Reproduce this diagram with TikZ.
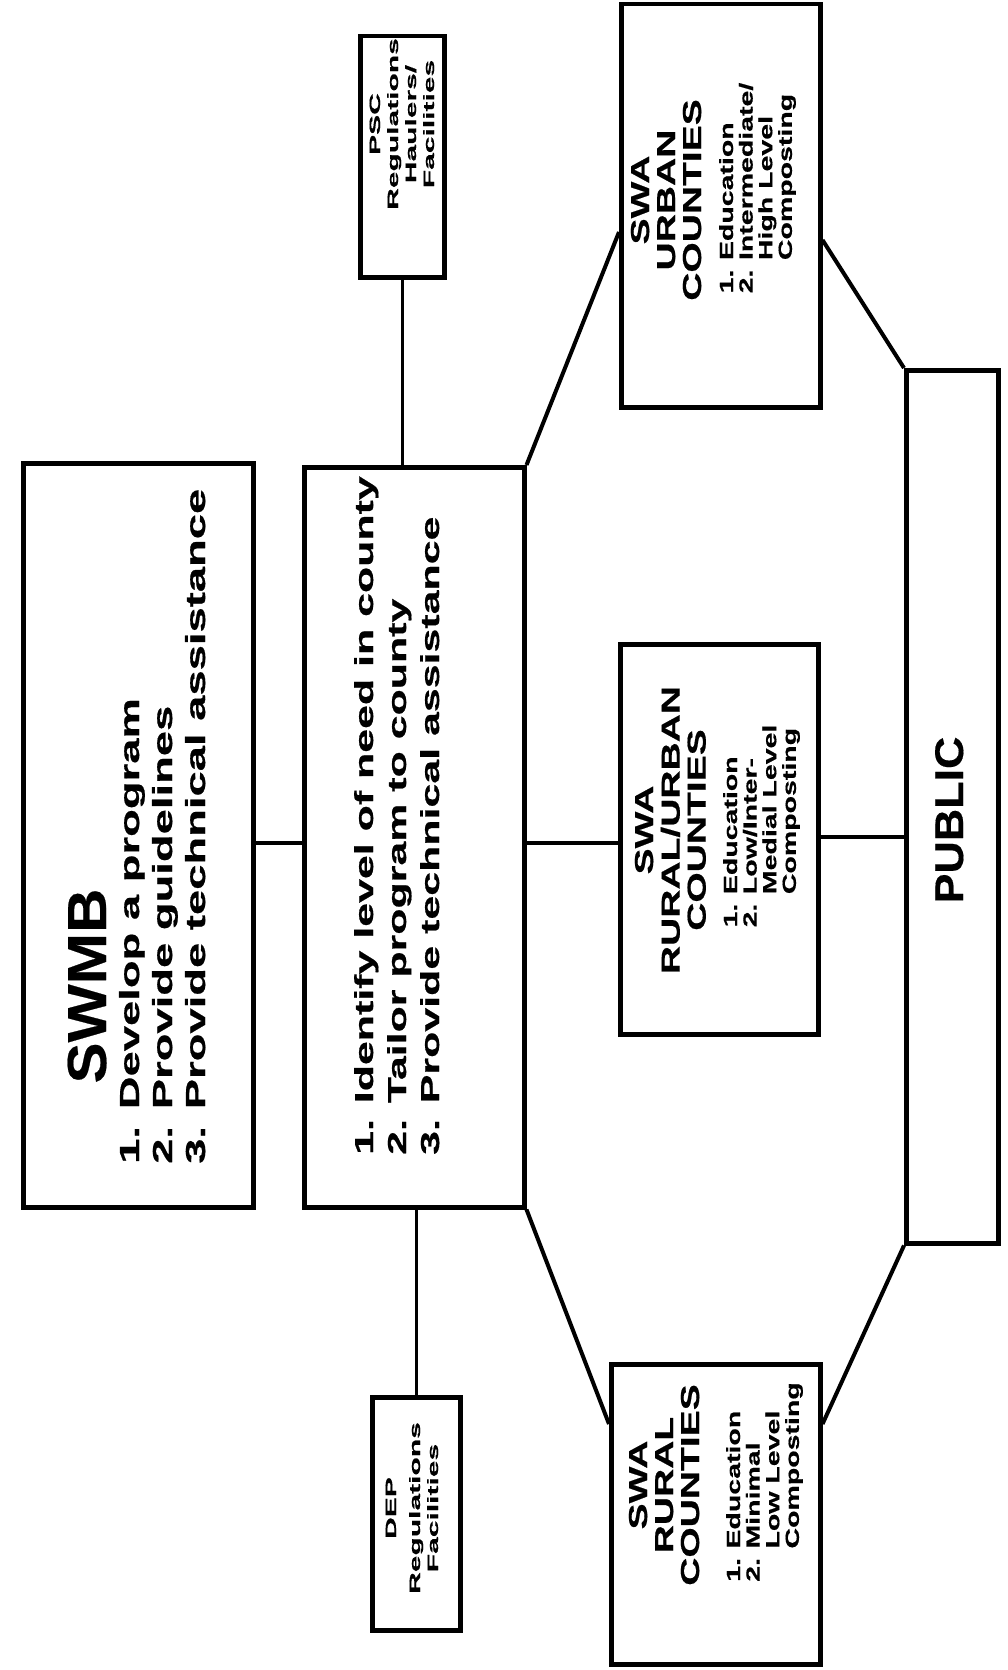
\documentclass[tikz,border=0pt]{standalone}
\usepackage{fontspec}
\newfontfamily\bigsans{Liberation Sans}[FakeStretch=1.65,FakeBold=0.6]
\newfontfamily\titlesans{Liberation Sans}[FakeStretch=1.12,FakeBold=0.4]
\newfontfamily\swasans{Liberation Sans}[FakeStretch=1.5,FakeBold=0.6]
\newfontfamily\tinysans{Liberation Sans}[FakeStretch=2.0,FakeBold=0.6]

\tikzset{
  box/.style={draw, line width=4.5pt, rectangle, inner sep=0pt, anchor=north west},
  link/.style={line width=4pt},
  thinlink/.style={line width=3pt},
  vtext/.style={rotate=90, inner sep=0pt},
  titlefont/.style={font=\titlesans\bfseries\fontsize{#1}{#1}\selectfont},
  headfont/.style={font=\swasans\bfseries\fontsize{26}{26}\selectfont},
  listfont/.style={font=\swasans\bfseries\fontsize{19}{19.5}\selectfont},
  tinyfont/.style={font=\tinysans\bfseries\fontsize{15}{18}\selectfont}
}

\begin{document}
\begin{tikzpicture}[x=1pt,y=-1pt]
\useasboundingbox (0,0) rectangle (1008,1670);

% Define coordinates for the connector heights
\coordinate (axis) at (0,843);
\coordinate (pubaxis) at (0,837);
\coordinate (urbanin) at (0,232);
\coordinate (urbanout) at (0,240);
\coordinate (ruralin) at (0,1424);

% Draw the boxes
\node[box, minimum width=230, minimum height=744] (swmb) at (21,461) {};
\node[box, minimum width=220, minimum height=740] (mid) at (302,465) {};
\node[box, minimum width=84, minimum height=241] (psc) at (358,34) {};
\node[box, minimum width=88, minimum height=233] (dep) at (370,1395) {};
\node[box, minimum width=199, minimum height=403] (urban) at (619,2) {};
\node[box, minimum width=198, minimum height=390] (rurub) at (618,642) {};
\node[box, minimum width=209, minimum height=300] (rural) at (609,1362) {};
\node[box, minimum width=92, minimum height=873] (public) at (904,368) {};

% Draw the connectors
\draw[link] (swmb.east |- axis) -- (mid.west |- axis);
\draw[link] (mid.east |- axis) -- (rurub.west |- axis);
\draw[link] (rurub.east |- pubaxis) -- (public.west |- pubaxis);
\draw[thinlink] (psc.south) -- (psc.south |- mid.north);
\draw[thinlink] (mid.south -| dep.north) -- (dep.north);
\draw[link] (mid.north east) -- (urban.west |- urbanin);
\draw[link] (urban.east |- urbanout) -- (public.north west);
\draw[link] (mid.south east) -- (rural.west |- ruralin);
\draw[link] (rural.east |- ruralin) -- (public.south west);

% Add the texts of the top boxes
\node[vtext, anchor=base, titlefont=55] (swmbtitle) at (106,986) {SWMB};
\node[vtext, anchor=base west, font=\bigsans\bfseries\fontsize{27.5}{33}\selectfont] (swmblist) at (139,1164)
  {\begin{tabular}[t]{@{}l@{}}1. Develop a program\\2. Provide guidelines\\3. Provide technical assistance\end{tabular}};
\node[vtext, anchor=base west, font=\bigsans\bfseries\fontsize{26}{33}\selectfont] (midlist) at (373,1155)
  {\begin{tabular}[t]{@{}l@{}}1. Identify level of need in county\\2. Tailor program to county\\3. Provide technical assistance\end{tabular}};
\node[vtext, anchor=base, tinyfont] (psctext) at (380,124)
  {\begin{tabular}[t]{@{}c@{}}PSC\\Regulations\\Haulers/\\Facilities\end{tabular}};
\node[vtext, anchor=base, tinyfont] (deptext) at (396,1508)
  {\begin{tabular}[t]{@{}c@{}}DEP\\[6pt]Regulations\\Facilities\end{tabular}};

% Add the texts of the SWA boxes
\node[vtext, anchor=base, headfont] (urbanhead) at (649,200)
  {\begin{tabular}[t]{@{}c@{}}SWA\\URBAN\\COUNTIES\end{tabular}};
\node[vtext, anchor=base, listfont] (urbanlist) at (733,188)
  {\begin{tabular}[t]{@{}l@{\enspace}l@{}}1. & Education\\2. & Intermediate/\\ & High Level\\ & Composting\end{tabular}};
\node[vtext, anchor=base, headfont] (rurubhead) at (653,830)
  {\begin{tabular}[t]{@{}c@{}}SWA\\RURAL/URBAN\\COUNTIES\end{tabular}};
\node[vtext, anchor=base, listfont] (rurublist) at (737,826)
  {\begin{tabular}[t]{@{}l@{\enspace}l@{}}1. & Education\\2. & Low/Inter-\\ & Medial Level\\ & Composting\end{tabular}};
\node[vtext, anchor=base, headfont] (ruralhead) at (647,1485)
  {\begin{tabular}[t]{@{}c@{}}SWA\\RURAL\\COUNTIES\end{tabular}};
\node[vtext, anchor=base, listfont] (rurallist) at (740,1482)
  {\begin{tabular}[t]{@{}l@{\enspace}l@{}}1. & Education\\2. & Minimal\\ & Low Level\\ & Composting\end{tabular}};

% Add the public label
\node[vtext, anchor=base, titlefont=40] (publictext) at (963,820) {PUBLIC};
\end{tikzpicture}
\end{document}
